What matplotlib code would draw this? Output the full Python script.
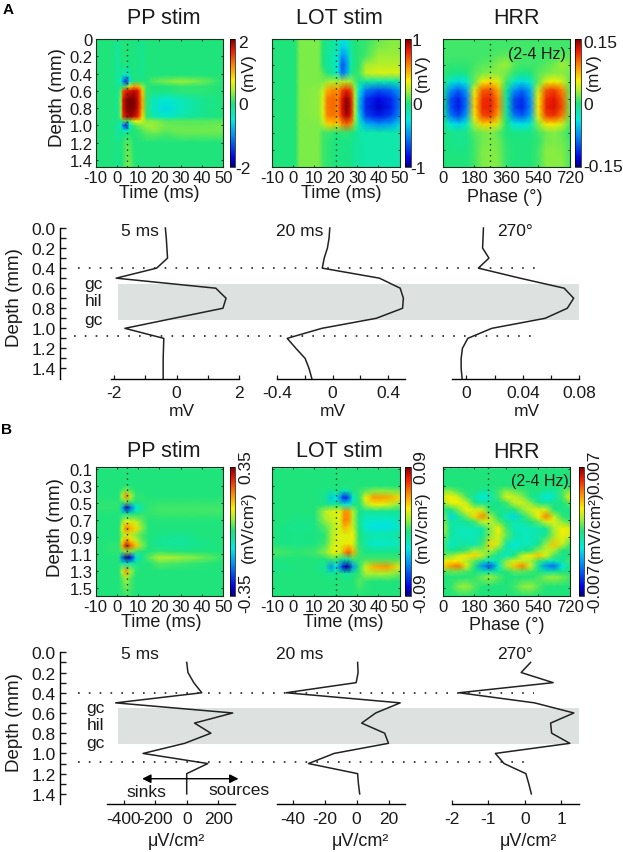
import numpy as np
import matplotlib
matplotlib.use('Agg')
from matplotlib import pyplot as plt
from matplotlib.colors import LinearSegmentedColormap

plt.rcParams['font.family'] = ['Liberation Sans', 'DejaVu Sans']
plt.rcParams['axes.unicode_minus'] = False

W, H = 623, 853

# heat maps: values are percent of the colour bar end
a1_time = [-10, -2, 0.5, 2, 3, 4.5, 6, 8, 10, 12, 14, 17, 23, 30, 40, 50]
a1_depth = [0.0, 0.2, 0.3, 0.42, 0.49, 0.55, 0.6, 0.7, 0.8, 0.9, 0.95, 1.0, 1.06, 1.1, 1.2, 1.5]
a1_vals = [
    [0, 0, -10, 0, 0, 0, 0, 0, -3, -4, 0, 0, 0, 0, 0, 0],
    [0, 0, -10, 0, 0, 0, 0, 0, -3, -4, 0, 0, 0, 0, 0, 0],
    [0, 0, -10, 0, 0, -3, -3, 0, -3, -4, 0, 0, 0, 0, 0, 0],
    [0, 0, -10, -5, -12, -25, -8, 0, -3, -4, 0, 0, 0, 0, 0, 0],
    [0, 0, -10, -20, -55, -80, -30, 0, 0, 0, 0, 8, 14, 18, 12, 0],
    [0, 0, -5, -3, 5, 5, 30, 55, 50, 18, 3, 0, 0, 3, 3, 0],
    [0, 0, -5, 10, 70, 80, 85, 90, 85, 45, 3, 0, 0, 3, 3, 0],
    [0, 0, -5, 15, 85, 96, 100, 100, 88, 50, 3, -15, -22, -15, -5, 0],
    [0, 0, -5, 15, 85, 96, 100, 100, 88, 50, 3, -18, -30, -18, -5, 0],
    [0, 0, -5, 15, 80, 90, 95, 90, 80, 40, 3, -12, -20, -12, -4, 0],
    [0, 0, -5, 0, 10, 5, 10, 30, 35, 25, 15, 15, 8, 8, 8, 8],
    [0, 0, -10, -20, -60, -85, -25, 5, 12, 15, 18, 18, 12, 10, 10, 12],
    [0, 0, -10, -5, -15, -25, -3, 0, 2, 8, 12, 15, 10, 12, 12, 12],
    [0, 0, -10, -3, -5, -5, 0, 0, 2, 5, 8, 10, 6, 10, 10, 10],
    [0, 0, -5, 0, 3, 8, 8, 0, 0, 0, 0, 0, 0, 0, 0, 0],
    [0, 0, -5, 0, 3, 12, 14, 3, 0, 0, 0, 0, 0, 0, 0, 0],
]

a2_time = [-10, 1, 3, 12, 14, 16, 19, 21, 23, 25, 27, 29, 31, 34, 40, 46, 50]
a2_depth = [0.0, 0.1, 0.2, 0.3, 0.4, 0.5, 0.6, 0.7, 0.8, 0.9, 1.0, 1.1, 1.2, 1.3, 1.4, 1.5]
a2_vals = [
    [0, 0, 14, 14, 0, -5, -8, -12, -25, -22, -5, 0, 2, 3, 10, 15, 15],
    [0, 0, 14, 14, 0, -5, -8, -15, -35, -30, -8, 0, 2, 4, 14, 16, 15],
    [0, 0, 14, 14, 0, -8, -12, -20, -50, -42, -12, 0, 2, 5, 18, 18, 18],
    [0, 0, 14, 14, 0, -8, -12, -25, -65, -50, -12, 0, 2, 18, 22, 22, 22],
    [0, 0, 14, 14, 8, -2, -10, -25, -60, -45, -8, 2, 5, 25, 30, 30, 30],
    [0, 0, 14, 14, 14, 18, 20, 20, 22, 22, 20, 8, -5, -10, -12, -12, -10],
    [0, 0, 14, 16, 25, 50, 58, 55, 72, 82, 74, 18, -25, -55, -65, -60, -45],
    [0, 0, 14, 16, 30, 62, 66, 60, 84, 98, 86, 22, -35, -72, -85, -75, -55],
    [0, 0, 14, 16, 30, 62, 66, 60, 86, 100, 88, 22, -38, -75, -90, -78, -55],
    [0, 0, 14, 16, 30, 60, 64, 58, 82, 95, 84, 20, -30, -68, -80, -70, -50],
    [0, 0, 14, 14, 22, 42, 46, 42, 58, 66, 58, 12, -15, -40, -50, -45, -32],
    [0, 0, 14, 14, 5, 5, 2, 0, 3, 3, 0, -3, -12, -12, -12, -12, -12],
    [0, 0, 14, 14, 5, 3, 0, -2, -2, -2, -3, -8, -8, -12, -12, -12, -12],
    [0, 0, 14, 14, 5, 3, 0, -2, -2, -2, -3, -8, -8, -12, -12, -12, -12],
    [0, 0, 14, 14, 5, 3, 0, -2, -2, -2, -3, -8, -8, -12, -12, -12, -12],
    [0, 0, 14, 14, 5, 3, 0, -2, -2, -2, -3, -8, -8, -12, -12, -12, -12],
]

a3_phase = [0, 45, 90, 135, 180, 225, 270, 315, 360, 405, 450, 495, 540, 585, 630, 675, 720]
a3_depth = a2_depth
a3_vals = [
    [5, 5, 5, 5, 5, 5, 5, 5, 5, 5, 5, 5, 5, 5, 5, 5, 5],
    [5, 5, 5, 5, 5, 5, 5, 5, 5, 5, 5, 5, 5, 5, 5, 5, 5],
    [5, 5, 5, 5, 5, 5, 6, 8, 10, 5, 5, 5, 5, 5, 6, 10, 8],
    [5, 3, 3, 3, 5, 8, 10, 15, 18, 8, 5, 5, 5, 8, 12, 18, 14],
    [3, 0, -3, 0, 8, 12, 15, 15, 12, 3, -3, 0, 8, 12, 15, 15, 12],
    [0, -20, -30, -20, 10, 35, 40, 30, 5, -20, -30, -20, 10, 30, 35, 28, 10],
    [-2, -50, -62, -45, 30, 68, 70, 50, -5, -50, -60, -42, 25, 70, 75, 60, 10],
    [-3, -65, -78, -55, 40, 78, 80, 58, -8, -66, -74, -50, 35, 78, 84, 68, 12],
    [-3, -65, -80, -55, 42, 80, 82, 60, -8, -68, -78, -52, 38, 82, 86, 72, 12],
    [-3, -55, -68, -45, 38, 72, 75, 50, -5, -56, -64, -44, 32, 74, 78, 62, 10],
    [0, -25, -32, -20, 20, 42, 42, 26, 0, -26, -28, -20, 15, 38, 38, 28, 5],
    [0, -3, -5, -3, 8, 12, 15, 8, 0, -3, -3, -3, 5, 12, 15, 10, 2],
    [0, -3, -6, -5, 5, 12, 14, 12, 2, 0, 0, 0, 3, 12, 14, 12, 5],
    [0, -2, -2, -2, 5, 14, 15, 12, 3, 0, 0, 0, 5, 15, 15, 14, 6],
    [0, 0, 0, 0, 5, 14, 15, 14, 3, 0, 0, 0, 5, 15, 15, 15, 6],
    [0, 0, 0, 0, 5, 14, 15, 14, 3, 0, 0, 0, 5, 15, 15, 15, 6],
]

b1_time = [-10, 1, 2.5, 4.5, 6.5, 9, 12, 15, 20, 30, 40, 50]
b1_depth = [0.1, 0.3, 0.35, 0.42, 0.49, 0.56, 0.63, 0.72, 0.8, 0.88, 0.94, 1.0, 1.07, 1.14, 1.21, 1.3, 1.38, 1.6]
b1_vals = [
    [0, 0, 0, 0, 0, 0, 0, 0, 0, 0, 0, 0],
    [0, 0, 0, 0, 0, 0, 0, 0, 0, 0, 0, 0],
    [0, 0, 5, 15, 5, 0, 0, 0, 0, 0, 0, 0],
    [0, 0, 25, 60, 25, 3, 2, 0, 0, 0, 0, 0],
    [2, 2, 5, 15, 5, 0, 2, 2, 3, 3, 3, 3],
    [3, 3, -40, -90, -60, -25, -8, 3, 5, 5, 5, 5],
    [0, 0, -5, -10, -5, -2, 3, 3, 4, 4, 4, 4],
    [0, 0, 15, 35, 28, 25, 10, 0, 0, 0, 0, 0],
    [0, 0, 30, 62, 50, 40, 15, 0, 0, 0, 0, 0],
    [0, 0, 15, 30, 25, 15, 5, 0, -3, -6, 0, 0],
    [0, 0, 30, 55, 42, 25, 8, 0, -6, -8, -3, 0],
    [0, 3, 50, 90, 68, 45, 15, 0, -6, -8, -3, 0],
    [0, 3, 10, 20, 15, 5, 0, 0, 3, 0, 0, 0],
    [0, 0, -60, -100, -85, -30, -5, 8, 22, 18, 12, 3],
    [0, 0, -12, -20, -12, -5, 0, 0, 8, 5, 2, 0],
    [0, 0, 25, 55, 20, 3, 0, 0, 0, 0, 0, 0],
    [0, 0, 10, 22, 8, 0, 0, 0, 0, 0, 0, 0],
    [0, 0, 0, 3, 3, 0, 0, 0, 0, 0, 0, 0],
]

b2_time = [-10, -5, 2, 10, 15, 18, 20, 22, 24, 26, 28, 31, 34, 38, 44, 50]
b2_depth = [0.1, 0.3, 0.36, 0.44, 0.52, 0.6, 0.7, 0.78, 0.88, 0.98, 1.08, 1.16, 1.25, 1.33, 1.42, 1.6]
b2_vals = [
    [0, 0, 0, 0, 0, 0, 0, 0, 0, 0, 0, 0, 0, 0, 0, 0],
    [0, 0, 0, 0, 0, 0, 0, 0, 0, 0, 0, 0, 0, 0, 0, 0],
    [0, 0, 0, 0, -3, -5, -3, -5, -15, -10, 0, 3, 8, 15, 15, 12],
    [0, 0, 0, 0, -5, -35, -25, -50, -80, -65, -20, 2, 35, 55, 52, 40],
    [0, 0, 0, 0, -2, -8, -5, -5, -25, -25, -5, 0, 20, 35, 30, 15],
    [0, 0, 0, 0, 22, 30, 30, 32, 55, 55, 22, -3, -8, -6, -6, -6],
    [0, 0, -2, -2, 18, 25, 28, 30, 60, 58, 22, -5, -18, -20, -20, -15],
    [0, -2, -4, -3, 8, 18, 25, 28, 50, 45, 25, -3, -22, -28, -28, -20],
    [0, -2, -3, -2, 2, 20, 28, 32, 30, 30, 35, 0, -10, -12, -12, -8],
    [0, -2, -3, -2, 5, 22, 30, 30, 32, 38, 30, 2, -12, -20, -20, -15],
    [8, 5, 3, 5, 15, 30, 35, 28, 55, 70, 50, 5, -3, -3, -3, -3],
    [0, 0, 0, 0, 0, 5, 5, 0, -10, -10, 5, 3, 5, 5, 5, 5],
    [-5, -3, 0, 0, -8, -50, -25, -55, -90, -95, -50, 2, 28, 50, 55, 30],
    [0, 0, 0, 0, -3, -5, -3, 0, -8, -8, -2, 3, 20, 20, 20, 12],
    [0, 0, 0, 0, 0, 0, 0, 0, 0, 0, 0, 8, 3, 0, 0, 0],
    [0, 0, 0, 0, 0, 0, 0, 0, 0, 0, 0, 0, 0, 0, 0, 0],
]

b3_phase = a3_phase
b3_depth = [0.1, 0.3, 0.36, 0.43, 0.5, 0.58, 0.66, 0.72, 0.8, 0.88, 0.99, 1.06, 1.12, 1.18, 1.24, 1.31, 1.37, 1.48, 1.6]
b3_vals = [
    [0, 0, 0, 0, 0, 0, 0, 0, 0, 0, 0, 0, 0, 0, 0, 0, 0],
    [0, 0, 0, 0, 0, 0, 0, 0, 0, 0, 0, 0, 0, 0, 0, 0, 0],
    [15, 15, 5, 0, 0, -8, -5, 5, 15, 10, 5, 0, 0, -8, -8, 5, 15],
    [30, 35, 25, 5, -10, -25, -15, 5, 30, 25, 15, -3, -10, -25, -15, 5, 35],
    [15, 35, 35, 25, -3, -10, -5, -3, 5, 25, 28, 15, -3, -8, -5, 0, 10],
    [0, -3, 15, 35, 28, 25, 0, -5, -5, 0, 15, 28, 30, 25, 0, -5, 0],
    [15, -30, -8, 12, 40, 58, 20, 0, -15, -30, -5, 12, 35, 60, 25, 3, -3],
    [15, -10, -10, -5, 5, 25, 25, 10, -5, -12, -10, 0, 10, 30, 30, 15, 5],
    [25, -10, -15, -15, -15, -10, 15, 35, 5, -15, -18, -15, -12, -5, 20, 35, 30],
    [15, -8, -15, -15, -15, -8, 15, 30, 10, -10, -15, -15, -12, -5, 18, 35, 28],
    [5, -20, -10, -10, -15, 5, 42, 25, -10, -25, -15, -15, -5, 18, 45, 25, 5],
    [5, -5, 0, 5, 20, 15, 20, 5, -12, -12, -5, 0, 15, 25, 20, 0, 0],
    [10, 15, 28, 38, 42, 25, 5, -10, -18, 0, 25, 35, 45, 30, 5, -5, 0],
    [30, 38, 35, 22, 10, -5, -20, -8, 15, 28, 25, 20, 5, -8, -15, -5, 5],
    [40, 55, 62, 30, 0, -50, -65, -20, 20, 45, 60, 28, -10, -50, -58, -25, -5],
    [5, 10, 10, 5, 0, -8, -10, -5, 0, 8, 8, 5, 0, -8, -8, -3, 0],
    [0, 0, 0, 0, 3, 12, 18, 8, 0, 0, 0, 0, 5, 15, 18, 12, 5],
    [0, 3, 15, 18, 8, 0, 0, 0, 0, 5, 15, 18, 8, 0, 0, 0, 0],
    [0, 0, 0, 0, 0, 0, 0, 0, 0, 0, 0, 0, 0, 0, 0, 0, 0],
]

# depth profiles
prof_depth_a = [0.0, 0.1, 0.2, 0.3, 0.4, 0.5, 0.6, 0.7, 0.8, 0.9, 1.0, 1.1, 1.2, 1.3, 1.4, 1.5]
prof_a1 = [-0.36, -0.33, -0.31, -0.29, -0.64, -1.94, 1.26, 1.59, 1.49, -0.09, -1.66, -0.41, -0.42, -0.43, -0.43, -0.43]
prof_a2 = [-0.02, -0.025, -0.037, -0.06, -0.074, 0.337, 0.486, 0.509, 0.503, 0.314, -0.077, -0.326, -0.263, -0.197, -0.169, -0.149]
prof_a3 = [0.0121, 0.0118, 0.0115, 0.016, 0.0085, 0.038, 0.0693, 0.076, 0.0715, 0.0558, 0.018, 0.001, -0.0028, -0.0037, -0.0037, -0.003]

prof_depth_b = [0.1, 0.2, 0.3, 0.4, 0.5, 0.6, 0.7, 0.8, 0.9, 1.0, 1.1, 1.2, 1.3, 1.4]
prof_b1 = [0, 8, 45, 96, -453, 293, 50, 154, -13, -278, 134, 0, 0, 0]
prof_b2 = [0.7, 1, -0.2, -44, 27.3, 12, 3.2, 17.6, 20, -14, -30, 0.7, 1.2, 2]
prof_b3 = [0.16, -0.1, 0.78, -1.81, 0.27, 1.35, 0.71, 0.74, 1.24, -0.81, -0.57, 0.03, 0.11, 0.18]

jetlike = LinearSegmentedColormap.from_list('jetlike', [
    (0.0, '#00007a'), (0.07, '#0000e8'), (0.25, '#0090f8'), (0.37, '#00eae0'),
    (0.5, '#1ce47c'), (0.6, '#a8f030'), (0.68, '#f8f000'), (0.8, '#fc8400'),
    (0.92, '#ea1400'), (1.0, '#7c0000')])


def px_ax(x0, y0, x1, y1, **kw):
    return fig.add_axes([x0 / W, 1 - y1 / H, (x1 - x0) / W, (y1 - y0) / H], **kw)


def px_text(x, y, s, size=10, **kw):
    kw.setdefault('ha', 'center')
    kw.setdefault('va', 'center')
    kw.setdefault('color', '#1a1a1a')
    fig.text(x / W, 1 - y / H, s, fontsize=size, **kw)


def heat(box, cbox, xs, ys, vals, xlim, ylim, xticks, yticks, mark):
    ax = px_ax(*box)
    m = ax.pcolormesh(xs, ys, np.array(vals), cmap=jetlike, vmin=-100, vmax=100,
                      shading='gouraud', rasterized=True)
    ax.set_xlim(*xlim)
    ax.set_ylim(*ylim)
    ax.set_xticks(xticks)
    if yticks is None:
        ax.set_yticks(np.arange(0.1, 1.6, 0.2))
        ax.set_yticklabels([])
    else:
        ax.set_yticks(yticks)
        ax.set_yticklabels(['%g' % v if v == 0 else '%.1f' % v for v in yticks])
    ax.tick_params(direction='in', top=True, right=True, length=1.5, width=0.6,
                   labelsize=12, pad=2, colors='#1a1a1a')
    ax.axvline(mark, color='#0a3a1a', ls=(0, (1, 3)), lw=1)
    for s in ax.spines.values():
        s.set_linewidth(0.8)
        s.set_color('#14301c')
    cax = px_ax(*cbox)
    cb = fig.colorbar(m, cax=cax)
    cb.set_ticks([])
    cb.outline.set_linewidth(0.5)
    return ax


fig = plt.figure(figsize=(W / 100, H / 100), dpi=100)

t_ticks = [-10, 0, 10, 20, 30, 40, 50]
ph_ticks = [0, 180, 360, 540, 720]
depth_a = [0, 0.2, 0.4, 0.6, 0.8, 1.0, 1.2, 1.4]
depth_b = [0.1, 0.3, 0.5, 0.7, 0.9, 1.1, 1.3, 1.5]

heat((95.5, 40, 223.3, 168), (229.6, 40, 235.2, 168), a1_time, a1_depth, a1_vals, (-10, 50), (1.48, 0), t_ticks, depth_a, 5)
heat((271.8, 40, 399.7, 168), (405, 40, 410.7, 168), a2_time, a2_depth, a2_vals, (-10, 50), (1.48, 0), t_ticks, None, 20)
heat((442.6, 40, 570.1, 168), (575.3, 40, 581.2, 168), a3_phase, a3_depth, a3_vals, (0, 720), (1.48, 0), ph_ticks, None, 270)
heat((95.5, 468, 223.3, 597), (229.6, 468, 235.2, 597), b1_time, b1_depth, b1_vals, (-10, 50), (1.59, 0.08), t_ticks, depth_b, 5)
heat((271.8, 468, 399.7, 597), (405, 468, 410.7, 597), b2_time, b2_depth, b2_vals, (-10, 50), (1.59, 0.08), t_ticks, None, 20)
heat((442.6, 468, 570.1, 597), (578.5, 468, 584, 597), b3_phase, b3_depth, b3_vals, (0, 720), (1.59, 0.08), ph_ticks, None, 258)

# titles and heat map labels
for y, lab_y, x_off in ((18, 194, 0), (452, 623, 2)):
    px_text(163.7, y, 'PP stim', 15.5)
    px_text(339.7, y, 'LOT stim', 15.5)
    px_text(516.5, y + 1, 'HRR', 15.5)
    px_text(159 + x_off, lab_y, 'Time (ms)', 13)
    px_text(341.7 + x_off, lab_y, 'Time (ms)', 13)
    px_text(505 + x_off, lab_y + 3, 'Phase (°)', 13)
px_text(57, 98, 'Depth (mm)', 13.5, rotation=90)
px_text(55.6, 528, 'Depth (mm)', 13.5, rotation=90)
px_text(537, 54, '(2-4 Hz)', 11.5)
px_text(540, 482, '(2-4 Hz)', 11.5)
px_text(8, 10, 'A', 11, weight='bold', color='black')
px_text(7, 430, 'B', 11, weight='bold', color='black')

# colour bar labels, panel A
for x, s, y in ((238, '2', 44), (238, '0', 105), (235, '-2', 170),
                (412, '1', 42), (412, '0', 105), (410, '-1', 170),
                (583, '0.15', 44), (583, '0', 105), (583, '-0.15', 167)):
    px_text(x, y, s, 12.5, ha='left')
px_text(248, 72, '(mV)', 12.5, rotation=90)
px_text(422, 73, '(mV)', 12.5, rotation=90)
px_text(593, 72, '(mV)', 12.5, rotation=90)
# colour bar labels, panel B
for x, s, y in ((245.5, '0.35', 467), (245.5, '-0.35', 593),
                (421, '0.09', 467), (421, '-0.09', 593),
                (595, '0.007', 472), (595, '-0.007', 588)):
    px_text(x, y, s, 12.5, rotation=90)
px_text(248, 527, '(mV/cm²)', 12.5, rotation=90)
px_text(422, 527, '(mV/cm²)', 12.5, rotation=90)
px_text(595, 527, '(mV/cm²)', 12.5, rotation=90)


def depth_axis(y0, y1, band, dots):
    # shared background: gray band, dotted lines and the depth spine, x in pixels
    ax = px_ax(59.6, y0, 590, y1)
    ax.set_xlim(59.6, 590)
    ax.set_ylim(1.5, 0)
    ax.axhspan(band[0], band[1], xmin=(117.6 - 59.6) / 530.4, xmax=(579.3 - 59.6) / 530.4,
               color='#dde1df', lw=0)
    for d, x0, x1 in dots:
        ax.plot([x0, x1], [d, d], color='#222222', ls=(0, (1, 5.5)), lw=1.2)
    for s in ('top', 'right', 'bottom'):
        ax.spines[s].set_visible(False)
    ax.spines['left'].set_linewidth(1)
    ax.set_xticks([])
    ax.set_yticks(np.arange(0, 1.51, 0.2))
    ax.set_yticklabels(['%.1f' % v for v in np.arange(0, 1.51, 0.2)])
    ax.set_yticks(np.arange(0.1, 1.5, 0.2), minor=True)
    ax.tick_params(axis='y', which='both', direction='in', length=4, width=1, labelsize=12.5, pad=3,
                   colors='#1a1a1a')
    return ax


def profile(box, xs, ds, xlim, major, labels, minor):
    ax = px_ax(*box)
    ax.patch.set_alpha(0)
    ax.plot(xs, ds, color='#222222', lw=1.1, clip_on=False)
    ax.set_xlim(*xlim)
    ax.set_ylim(1.5, 0)
    ax.set_yticks([])
    for s in ('top', 'right', 'left'):
        ax.spines[s].set_visible(False)
    ax.spines['bottom'].set_linewidth(1)
    ax.set_xticks(major)
    ax.set_xticklabels(labels)
    ax.set_xticks(minor, minor=True)
    ax.tick_params(axis='x', which='both', direction='in', length=3, width=0.9, labelsize=12.5, pad=5,
                   colors='#1a1a1a')
    return ax


depth_axis(229, 379.5, (0.556, 0.921), [(0.4, 78, 540), (1.08, 73.5, 538)])
profile((111.2, 229, 238.8, 379.5), prof_a1, prof_depth_a, (-2.1, 2), [-2, 0, 2], ['-2', '0', '2'], [-1, 1])
profile((276.9, 229, 404.5, 379.5), prof_a2, prof_depth_a, (-0.4, 0.517), [-0.4, 0, 0.4], ['-0.4', '0', '0.4'], [-0.2, 0.2])
profile((452.1, 229, 579.3, 379.5), prof_a3, prof_depth_a, (-0.0101, 0.08), [0, 0.04, 0.08], ['0', '0.04', '0.08'], [0.02, 0.06])

depth_axis(653.3, 805, (0.55, 0.91), [(0.4, 78, 534), (1.08, 78, 532)])
pb1 = profile((107.3, 653.3, 235.2, 805), prof_b1, prof_depth_b, (-506, 309), [-400, -200, 0, 200], ['-400', '-200', '0', '200'], [])
profile((276.9, 653.3, 404.5, 805), prof_b2, prof_depth_b, (-49.75, 30), [-40, -20, 0, 20], ['-40', '-20', '0', '20'], [])
profile((452.1, 653.3, 579.3, 805), prof_b3, prof_depth_b, (-2, 1.5), [-2, -1, 0, 1], ['-2', '-1', '0', '1'], [])

# sinks / sources arrow on the first CSD profile
arrow = dict(arrowstyle='-|>', color='black', lw=1, shrinkA=0, shrinkB=0, mutation_scale=13)
pb1.annotate('', xy=(-284, 1.25), xytext=(0, 1.25), arrowprops=arrow)
pb1.annotate('', xy=(330, 1.25), xytext=(0, 1.25), annotation_clip=False, arrowprops=arrow)
px_text(146, 792.5, 'sinks', 12.5)
px_text(239, 791, 'sources', 12.5)

px_text(14.7, 298, 'Depth (mm)', 13.5, rotation=90)
px_text(14.7, 723, 'Depth (mm)', 13.5, rotation=90)

for y, labs in ((285, 'gc'), (302, 'hil'), (320, 'gc'), (709, 'gc'), (726, 'hil'), (744, 'gc')):
    px_text(93 if y < 400 else 95, y, labs, 12.5)

for y in (232, 655):
    px_text(140, y, '5 ms', 12.5)
    px_text(300, y, '20 ms', 12.5)
    px_text(515, y, '270°', 12.5)

for x, s in ((181.6, 'mV'), (332.5, 'mV'), (526.4, 'mV')):
    px_text(x, 411.7, s, 12.5)
for x in (176.8, 360.8, 528.4):
    px_text(x, 842, 'μV/cm²', 13)

fig.savefig('out.png', dpi=100)
